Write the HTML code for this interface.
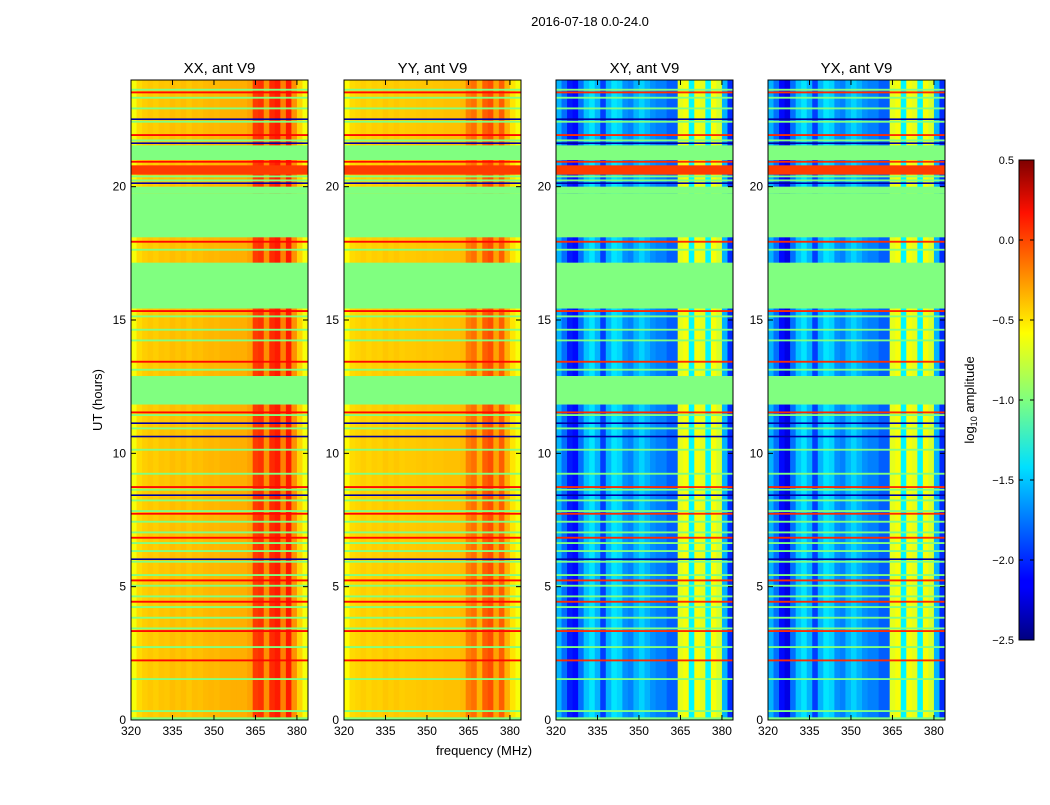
<!DOCTYPE html>
<html><head><meta charset="utf-8"><style>
body{margin:0;background:#fff;font-family:"Liberation Sans",sans-serif}
text{font-family:"Liberation Sans",sans-serif}
</style></head><body>
<svg id="fig" width="1050" height="800" xmlns="http://www.w3.org/2000/svg">
<rect width="1050" height="800" fill="#fff"/>
<text x="590" y="26" font-size="13" text-anchor="middle">2016-07-18 0.0-24.0</text>
<text transform="translate(102,400) rotate(-90)" font-size="13" text-anchor="middle">UT (hours)</text>
<text x="484" y="755" font-size="13" text-anchor="middle">frequency (MHz)</text>
<text transform="translate(974,400) rotate(-90)" font-size="13" text-anchor="middle">log<tspan font-size="9" dy="3">10</tspan><tspan dy="-3"> amplitude</tspan></text>
<defs><linearGradient id="jet" x1="0" y1="1" x2="0" y2="0">
<stop offset="0" stop-color="#00007f"/><stop offset="0.11" stop-color="#0000ff"/><stop offset="0.125" stop-color="#0000ff"/><stop offset="0.36" stop-color="#00e0ff"/><stop offset="0.5" stop-color="#7fff7f"/><stop offset="0.64" stop-color="#ffff00"/><stop offset="0.89" stop-color="#ff1000"/><stop offset="1" stop-color="#7f0000"/></linearGradient></defs>
<g id="panels"></g>
<g id="cbar"></g>
</svg>
<script>
const titles=["XX, ant V9","YY, ant V9","XY, ant V9","YX, ant V9"];
const freqBins=[320,322,324,326,328,330,332,334,336,338,340,342,344,346,348,350,352,354,356,358,360,362,364,366,368,370,372,374,376,378,380,382];
const profXX=[-0.65,-0.52,-0.48,-0.46,-0.48,-0.45,-0.46,-0.43,-0.45,-0.43,-0.46,-0.43,-0.44,-0.42,-0.41,-0.42,-0.4,-0.4,-0.39,-0.39,-0.39,-0.35,-0.05,-0.02,-0.3,0.0,0.05,-0.25,0.05,-0.3,-0.5,-0.65];
const profYY=[-0.62,-0.52,-0.5,-0.48,-0.5,-0.48,-0.49,-0.46,-0.48,-0.46,-0.48,-0.47,-0.47,-0.46,-0.45,-0.46,-0.45,-0.45,-0.44,-0.44,-0.44,-0.42,-0.25,-0.2,-0.4,-0.15,-0.1,-0.35,-0.15,-0.4,-0.55,-0.65];
const profXY=[-1.6,-1.8,-2.05,-2.1,-1.8,-1.55,-1.45,-1.6,-1.95,-1.6,-1.45,-1.5,-1.7,-1.75,-1.6,-1.5,-1.6,-1.7,-1.75,-1.75,-1.85,-1.85,-0.7,-0.65,-1.4,-0.65,-0.7,-1.4,-0.65,-0.75,-1.6,-2.0];
const profYX=[-1.6,-1.8,-2.1,-2.2,-1.8,-1.55,-1.45,-1.6,-1.95,-1.6,-1.45,-1.5,-1.7,-1.75,-1.6,-1.5,-1.6,-1.7,-1.75,-1.75,-1.85,-1.85,-0.7,-0.65,-1.4,-0.65,-0.7,-1.4,-0.65,-0.75,-1.6,-2.0];
const gaps=[[0,0.1],[11.83,12.9],[15.43,17.15],[18.1,19.75],[19.75,20.0],[21.0,21.55]];
const hotBands=[[20.45,20.8]];
const greenLines=[0.3,1.5,2.7,3.4,3.8,4.2,4.6,5.0,5.4,5.9,6.3,6.6,7.0,7.4,7.8,8.2,8.6,9.2,10.1,10.9,11.4,13.1,14.2,14.6,15.1,17.6,20.2,20.35,21.7,22.4,22.9,23.3,23.6];
const redLines=[2.2,3.3,4.4,5.2,6.8,7.7,8.7,11.5,13.4,15.3,17.9,20.9,21.9,23.5];
const darkLines=[10.6,11.1,8.4,6.0,20.1,21.6,22.5];
const yTicks=[0,5,10,15,20];
const xTicks=[320,335,350,365,380];
const cbTicks=["0.5","0.0","−0.5","−1.0","−1.5","−2.0","−2.5"];
const cbVals=[0.5,0,-0.5,-1,-1.5,-2,-2.5];
const profs=[profXX,profYY,profXY,profYX];
const panelX=[131,344,556,768],PW=177,PT=80,PB=720;
const NS="http://www.w3.org/2000/svg";
function jet(v){let t=(v+2.5)/3;t=Math.max(0,Math.min(1,t));const c=x=>Math.round(255*Math.max(0,Math.min(1,1.5-Math.abs(4*t-x))));return `rgb(${c(3)},${c(2)},${c(1)})`;}
function mk(tag,a,p){const e=document.createElementNS(NS,tag);for(const k in a)e.setAttribute(k,a[k]);p.appendChild(e);return e;}
const pg=document.getElementById('panels');
for(let p=0;p<4;p++){
 const x0=panelX[p];
 const xs=f=>x0+(f-320)/64*PW, ys=h=>PB-(h/24)*(PB-PT);
 const g=mk('g',{},pg);
 
 
 freqBins.forEach((f,i)=>{const r=mk('rect',{x:xs(f),y:PT,width:xs(f+2)-xs(f)+0.5,height:PB-PT,fill:jet(profs[p][i])},g);
  
  });
 const band=(h0,h1,v,nm)=>{const r=mk('rect',{x:x0,y:ys(h1),width:PW,height:Math.max(1.5,ys(h0)-ys(h1)),fill:jet(v)},g);
  
  };
 gaps.forEach(q=>band(q[0],q[1],-1,'flagged-gap'));
 hotBands.forEach(q=>band(q[0],q[1],-0.05,'hot-band'));
 greenLines.forEach(h=>band(h,h+0.07,-1,'flagged-line'));
 redLines.forEach(h=>band(h,h+0.07,p<2?0.1:0.0,'high-line'));
 darkLines.forEach(h=>band(h,h+0.06,-2.4,'low-line'));
 mk('rect',{x:x0,y:PT,width:PW,height:PB-PT,fill:'none',stroke:'#000','stroke-width':1},g);
 const t=mk('text',{x:x0+PW/2,y:73,'font-size':15,'text-anchor':'middle'},g);t.textContent=titles[p];
 
 
 yTicks.forEach(v=>{const y=ys(v);mk('line',{x1:x0,x2:x0+5,y1:y,y2:y,stroke:'#000'},g);mk('line',{x1:x0+PW,x2:x0+PW-5,y1:y,y2:y,stroke:'#000'},g);
  const l=mk('text',{x:x0-5,y:y+4,'font-size':12,'text-anchor':'end'},g);l.textContent=v;
  
  });
 xTicks.forEach(v=>{const x=xs(v);mk('line',{x1:x,x2:x,y1:PB,y2:PB-5,stroke:'#000'},g);mk('line',{x1:x,x2:x,y1:PT,y2:PT+5,stroke:'#000'},g);
  const l=mk('text',{x:x,y:PB+15,'font-size':12,'text-anchor':'middle'},g);l.textContent=v;
  
  });
}
const cb=document.getElementById('cbar');
const cbx=1019,cbw=15,cbt=160,cbb=640;
const cy=v=>cbb-(v+2.5)/3*(cbb-cbt);
const cr=mk('rect',{x:cbx,y:cbt,width:cbw,height:cbb-cbt,fill:'url(#jet)',stroke:'#000'},cb);


cbVals.forEach((v,i)=>{const y=cy(v);mk('line',{x1:cbx+cbw,x2:cbx+cbw-4,y1:y,y2:y,stroke:'#000'},cb);mk('line',{x1:cbx,x2:cbx+4,y1:y,y2:y,stroke:'#000'},cb);
 const l=mk('text',{x:cbx-5,y:y+4,'font-size':11,'text-anchor':'end'},cb);l.textContent=cbTicks[i];
 
 });
</script>
</body></html>
